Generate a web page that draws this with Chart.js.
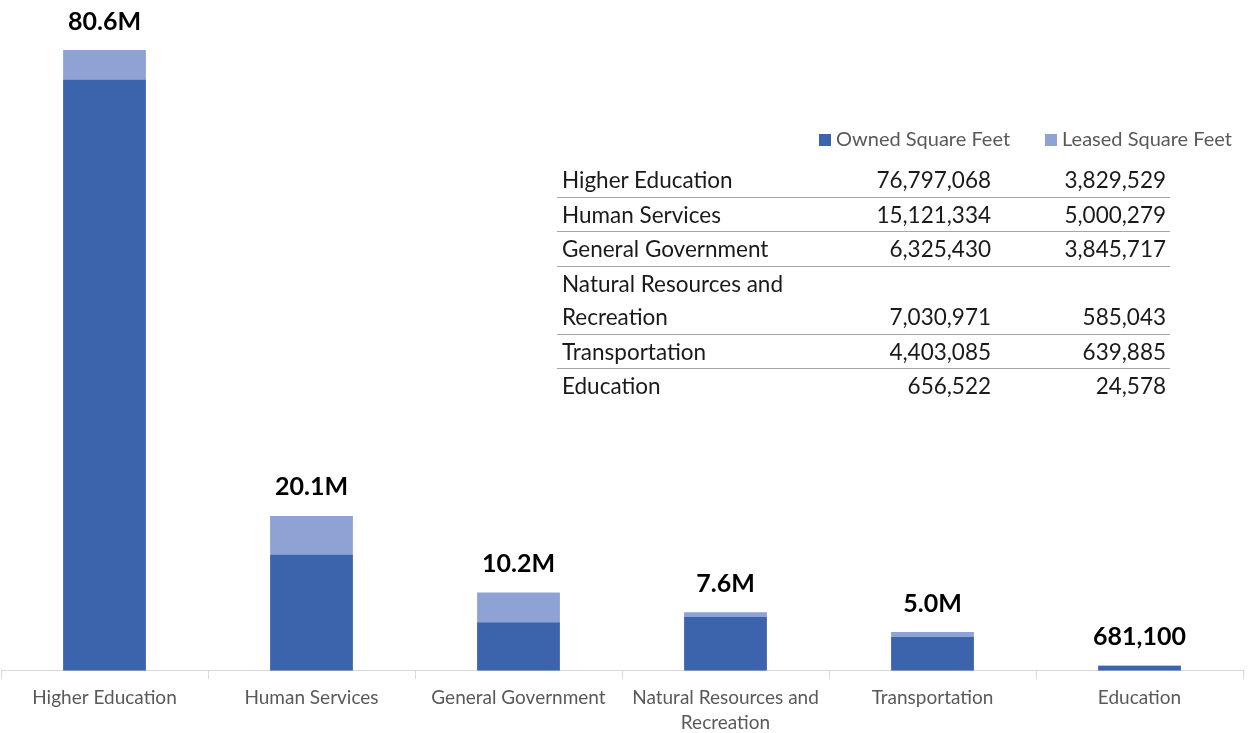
<!DOCTYPE html>
<html>
<head>
<meta charset="utf-8">
<script src="https://cdn.jsdelivr.net/npm/chart.js@4"></script>
<style>
  body { margin: 0; background: #fff; font-family: Lato, "Open Sans", sans-serif; }
  #wrap { position: relative; width: 1248px; height: 733px; overflow: hidden; }
  #chartBox { position: absolute; left: 0; top: 0; width: 1248px; height: 741px; }
  #legend { position: absolute; left: 819px; top: 126px; font-size: 20px; color: #595959; white-space: nowrap; }
  #legend span.item { margin-right: 35px; }
  #legend i { display: inline-block; width: 12px; height: 12px; margin-right: 5px; vertical-align: 0px; }
  #tbl { position: absolute; left: 557px; top: 163px; border-collapse: collapse; font-size: 22.5px; color: #1a1a1a; }
  #tbl td { padding: 0 4px 0 5px; line-height: 33.5px; height: 33.5px; vertical-align: bottom; white-space: normal; }
  #tbl tr { border-bottom: 1.5px solid #a6a6a6; }
  #tbl tr:last-child { border-bottom: none; }
  #tbl td.num { text-align: right; white-space: nowrap; }
</style>
</head>
<body>
<div id="wrap">
  <div id="chartBox"><canvas id="barChart"></canvas></div>
  <div id="legend"></div>
  <table id="tbl"></table>
</div>
<script>
/* data */
const categories = ['Higher Education', 'Human Services', 'General Government', 'Natural Resources and Recreation', 'Transportation', 'Education'];
const ownedSqFt = [76797068, 15121334, 6325430, 7030971, 4403085, 656522];
const leasedSqFt = [3829529, 5000279, 3845717, 585043, 639885, 24578];
const seriesNames = ['Owned Square Feet', 'Leased Square Feet'];
const seriesColors = ['#3B64AD', '#8FA2D4'];

// axis labels: break long name in two lines
const axisLabels = categories.map(c => c === 'Natural Resources and Recreation' ? ['Natural Resources and', 'Recreation'] : c);

function fmtTotal(v) {
  if (v >= 1000000) return (v / 1000000).toFixed(1) + 'M';
  return v.toLocaleString('en-US');
}

/* total labels above bars */
const totalsPlugin = {
  id: 'totals',
  afterDatasetsDraw(chart) {
    const ctx = chart.ctx;
    const meta = chart.getDatasetMeta(1);
    ctx.save();
    ctx.font = 'bold 25px Lato, "Open Sans", sans-serif';
    ctx.fillStyle = '#000';
    ctx.textAlign = 'center';
    ctx.textBaseline = 'bottom';
    meta.data.forEach((bar, i) => {
      const total = ownedSqFt[i] + leasedSqFt[i];
      ctx.fillText(fmtTotal(total), bar.x, bar.y - 16);
    });
    ctx.restore();
  }
};

document.addEventListener('DOMContentLoaded', () => {
  const ctxBar = document.getElementById('barChart').getContext('2d');
  new Chart(ctxBar, {
    type: 'bar',
    data: {
      labels: axisLabels,
      datasets: [
        { label: seriesNames[0], data: ownedSqFt, backgroundColor: seriesColors[0] },
        { label: seriesNames[1], data: leasedSqFt, backgroundColor: seriesColors[1] }
      ]
    },
    options: {
      responsive: true,
      maintainAspectRatio: false,
      animation: false,
      layout: { padding: { left: 1, right: 5, top: 50, bottom: 0 } },
      datasets: { bar: { categoryPercentage: 0.8, barPercentage: 0.5 } },
      plugins: {
        legend: { display: false },
        tooltip: { enabled: false }
      },
      scales: {
        x: {
          stacked: true,
          grid: { drawOnChartArea: false, drawTicks: true, tickLength: 8, color: '#d9d9d9' },
          border: { color: '#d9d9d9', width: 1 },
          ticks: { color: '#595959', font: { size: 19, family: 'Lato', lineHeight: 1.32 }, maxRotation: 0, padding: 6 }
        },
        y: {
          stacked: true,
          display: false,
          min: 0,
          max: 80626597
        }
      }
    },
    plugins: [totalsPlugin]
  });

  // legend
  const legend = document.getElementById('legend');
  seriesNames.forEach((name, i) => {
    const s = document.createElement('span');
    s.className = 'item';
    s.innerHTML = '<i style="background:' + seriesColors[i] + '"></i>' + name;
    legend.appendChild(s);
  });

  // data table
  const tbl = document.getElementById('tbl');
  categories.forEach((c, i) => {
    const tr = document.createElement('tr');
    tr.innerHTML = '<td style="width:236px">' + c + '</td>' +
      '<td class="num" style="width:184px">' + ownedSqFt[i].toLocaleString('en-US') + '</td>' +
      '<td class="num" style="width:166px">' + leasedSqFt[i].toLocaleString('en-US') + '</td>';
    tbl.appendChild(tr);
  });
});
</script>
</body>
</html>
